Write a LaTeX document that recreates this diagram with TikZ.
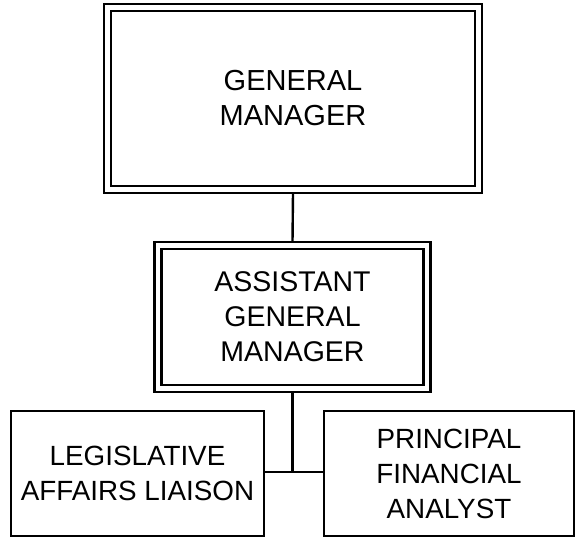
\documentclass[tikz,border=0pt]{standalone}
\usepackage{fontspec}
\setmainfont{Liberation Sans}
\begin{document}
\begin{tikzpicture}[x=1pt,y=-1pt,
  every node/.style={align=center, inner sep=0pt},
  dbox/.style={draw, double, line width=2.1pt, double distance=4.9pt, outer sep=3.5pt},
  sbox/.style={draw, line width=2.4pt, font=\fontsize{27.8}{35}\selectfont},
  link/.style={line width=2.4pt}]
  \useasboundingbox (0,0) rectangle (579,540);

  % upper management, boxed with a double rule
  \node[dbox, minimum width=371pt, minimum height=182pt, font=\fontsize{29}{35}\selectfont] (gm) at (293,98.5) {GENERAL\\MANAGER};
  \node[dbox, minimum width=269pt, minimum height=143pt, font=\fontsize{28.5}{35}\selectfont] (agm) at (292.5,317) {ASSISTANT\\GENERAL\\MANAGER};

  % staff positions
  \node[sbox, minimum width=253pt, minimum height=125pt] (leg) at (137.5,473.5) {LEGISLATIVE\\AFFAIRS LIAISON};
  \node[sbox, minimum width=250pt, minimum height=125pt] (pfa) at (449,473.5) {PRINCIPAL\\FINANCIAL\\ANALYST};

  % reporting lines
  \coordinate (j) at (292.5,472);
  \draw[link] (gm.south) -- (agm.north);
  \draw[link] (agm.south) -- (j);
  \draw[link] (leg.east |- j) -- (pfa.west |- j);
\end{tikzpicture}
\end{document}
